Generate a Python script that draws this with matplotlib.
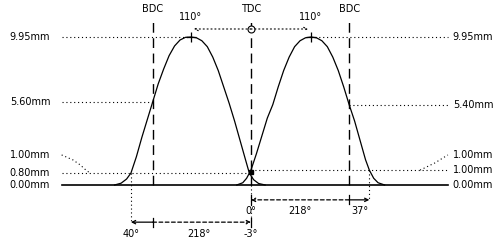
import matplotlib
matplotlib.use("Agg")
import matplotlib.pyplot as plt

# valve lift curves (crank degrees relative to TDC, lift in mm)
exh_deg = [-250, -238, -228, -220, -210, -200, -190, -180, -170, -160, -150, -140, -130,
           -120, -110, -100, -90, -80, -70, -60, -50, -40, -30, -20, -10, -3, 5, 14, 26]
exh_lift = [0.0, 0.12, 0.4, 0.8, 1.9, 3.2, 4.4, 5.6, 6.8, 7.8, 8.7, 9.35, 9.75,
            9.93, 9.95, 9.9, 9.7, 9.3, 8.6, 7.7, 6.6, 5.5, 4.3, 3.0, 1.7, 0.8, 0.35, 0.1, 0.0]
int_deg = [-26, -15, -8, 0, 10, 20, 30, 40, 50, 60, 70, 80, 90, 100, 110, 120, 130,
           140, 150, 160, 170, 180, 190, 200, 210, 217, 225, 233, 245]
int_lift = [0.0, 0.15, 0.45, 1.0, 2.1, 3.3, 4.5, 5.4, 6.6, 7.7, 8.6, 9.3, 9.7, 9.9, 9.95,
            9.9, 9.7, 9.3, 8.6, 7.7, 6.6, 5.4, 4.3, 3.0, 1.7, 1.0, 0.45, 0.15, 0.0]

left_lifts = [9.95, 5.60, 0.80, 0.00]
left_labels = ["9.95mm", "5.60mm", "0.80mm", "0.00mm"]
left_ends = [-110, -180, 0, None]
right_lifts = [9.95, 5.40, 1.00, 0.00]
right_labels = ["9.95mm", "5.40mm", "1.00mm", "0.00mm"]
right_starts = [110, 180, 0, None]

check_label = "1.00mm"
check_y = 2.02
left_lead_x = [-347, -326, -313, -304, -295]
left_lead_y = [2.02, 1.68, 1.35, 1.05, 0.8]
right_lead_x = [310, 337, 352, 361]
right_lead_y = [1.0, 1.48, 1.82, 2.02]

bdc = [-180, 180]
tdc = 0
peaks = [-110, 110]
exh_open, exh_close = -220, -3
int_open, int_close = 0, 217

xmin, xmax = -347, 361
dotted = (0, (1, 2.5))

fig = plt.figure(figsize=(5, 2.4), dpi=100)
ax = fig.add_axes([0, 0, 1, 1])
ax.set_xlim(-460, 456.5)
ax.set_ylim(-3.70, 12.44)
ax.axis("off")

fs = 7
# baseline
ax.plot([xmin, xmax], [0, 0], color="black", lw=1.2)

# lift curves
ax.plot(exh_deg, exh_lift, color="black", lw=0.9)
ax.plot(int_deg, int_lift, color="black", lw=0.9)

# BDC / TDC dashed lines
for x, lab in [(bdc[0], "BDC"), (tdc, "TDC"), (bdc[1], "BDC")]:
    ax.plot([x, x], [0, 10.96], color="black", lw=1, linestyle=(0, (7, 4)))
    ax.text(x, 11.84, lab, ha="center", va="center", fontsize=fs)

# peaks
for p in peaks:
    ax.plot(p, 9.95, marker="+", color="black", ms=7, mew=0.9)
    ax.text(p, 11.33, "110°", ha="center", va="center", fontsize=fs)

# top dotted arrows from TDC to peaks
ax.annotate("", xy=(peaks[0] + 5, 10.49), xytext=(tdc, 10.49),
            arrowprops=dict(arrowstyle="->", lw=0.8, linestyle=dotted, color="black",
                            shrinkA=0, shrinkB=0, mutation_scale=6))
ax.annotate("", xy=(peaks[1] - 5, 10.49), xytext=(tdc, 10.49),
            arrowprops=dict(arrowstyle="->", lw=0.8, linestyle=dotted, color="black",
                            shrinkA=0, shrinkB=0, mutation_scale=6))
ax.plot(tdc, 10.49, marker="o", ms=5, mfc="white", mec="black", mew=0.8)

# horizontal dotted lines and labels
for y, lab, end in zip(left_lifts, left_labels, left_ends):
    if end is not None:
        ax.plot([xmin, end], [y, y], color="black", lw=0.8, linestyle=dotted)
    ax.text(-368, y, lab, ha="right", va="center", fontsize=fs)
for y, lab, st in zip(right_lifts, right_labels, right_starts):
    if st is not None:
        ax.plot([st, xmax], [y, y], color="black", lw=0.8, linestyle=dotted)
    ax.text(370, y, lab, ha="left", va="center", fontsize=fs)

# checking-height leaders
ax.plot(left_lead_x, left_lead_y, color="black", lw=0.8, linestyle=dotted)
ax.text(-368, check_y, check_label, ha="right", va="center", fontsize=fs)
ax.plot(right_lead_x, right_lead_y, color="black", lw=0.8, linestyle=dotted)
ax.text(370, check_y, check_label, ha="left", va="center", fontsize=fs)

# overlap point
ax.plot(tdc, 0.9, marker="s", ms=2.5, color="black")

# vertical dotted drops
ax.plot([exh_open, exh_open], [0.8, -2.5], color="black", lw=0.8, linestyle=dotted)
ax.plot([tdc, tdc], [0, -2.5], color="black", lw=0.8, linestyle=dotted)
ax.plot([int_close, int_close], [1.0, -1.0], color="black", lw=0.8, linestyle=dotted)

# intake duration arrow
ya = -1.0
ax.annotate("", xy=(int_open, ya), xytext=(bdc[1], ya),
            arrowprops=dict(arrowstyle="->", lw=0.9, linestyle=(0, (3, 2)), color="black",
                            shrinkA=0, shrinkB=0, mutation_scale=6))
ax.annotate("", xy=(int_close, ya), xytext=(bdc[1], ya),
            arrowprops=dict(arrowstyle="->", lw=0.9, color="black",
                            shrinkA=0, shrinkB=0, mutation_scale=6))
ax.plot([bdc[1], bdc[1]], [ya - 0.3, ya + 0.3], color="black", lw=0.9)
ax.plot([int_open, int_open], [ya - 0.3, ya + 0.3], color="black", lw=0.9)
ax.text(int_open, -1.75, "0°", ha="center", va="center", fontsize=fs)
ax.text(90, -1.75, "218°", ha="center", va="center", fontsize=fs)
ax.text(200, -1.75, "37°", ha="center", va="center", fontsize=fs)

# exhaust duration arrow
yb = -2.5
ax.annotate("", xy=(exh_close + 3, yb), xytext=(bdc[0], yb),
            arrowprops=dict(arrowstyle="->", lw=0.9, linestyle=(0, (3, 2)), color="black",
                            shrinkA=0, shrinkB=0, mutation_scale=6))
ax.annotate("", xy=(exh_open, yb), xytext=(bdc[0], yb),
            arrowprops=dict(arrowstyle="->", lw=0.9, color="black",
                            shrinkA=0, shrinkB=0, mutation_scale=6))
ax.plot([bdc[0], bdc[0]], [yb - 0.3, yb + 0.3], color="black", lw=0.9)
ax.plot([tdc, tdc], [yb - 0.3, yb + 0.3], color="black", lw=0.9)
ax.text(exh_open, -3.3, "40°", ha="center", va="center", fontsize=fs)
ax.text(-95, -3.3, "218°", ha="center", va="center", fontsize=fs)
ax.text(tdc, -3.3, "-3°", ha="center", va="center", fontsize=fs)

fig.savefig("out.png", dpi=100)
